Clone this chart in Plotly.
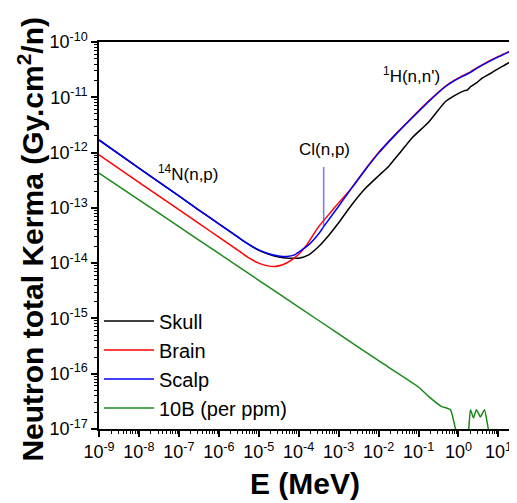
import numpy as np
import plotly.graph_objects as go

# values, as log10(E / MeV) and log10(kerma / Gy.cm2)
skull_logE = [-9, -8, -7, -6.5, -6, -5.5, -5.34, -5.0, -4.75, -4.5, -4.25, -4.0, -3.75, -3.5,
              -3.25, -3.0, -2.7, -2.375, -2.0, -1.75, -1.45, -1.17, -0.75, -0.33, -0.1, 0.05,
              0.15, 0.22, 0.3, 0.45, 0.6, 0.8, 1.0, 1.15, 1.3]
skull_logK = [-11.772, -12.28, -12.785, -13.04, -13.29, -13.54, -13.62, -13.77, -13.84, -13.89,
              -13.91, -13.91, -13.85, -13.70, -13.50, -13.27, -12.97, -12.68, -12.42, -12.25,
              -11.99, -11.74, -11.45, -11.08, -10.97, -10.91, -10.88, -10.87, -10.81, -10.74,
              -10.65, -10.57, -10.48, -10.42, -10.36]

brain_logE = [-9, -8, -7, -6.5, -6, -5.5, -5.28, -5.0, -4.8, -4.6, -4.4, -4.175, -4.0, -3.83,
              -3.5, -3.2, -3.0, -2.71, -2.33, -2.0, -1.58, -1.17, -0.75, -0.33, -0.1, 0.05,
              0.25, 0.5, 0.75, 1.0, 1.3]
brain_logK = [-12.04, -12.54, -13.03, -13.28, -13.53, -13.78, -13.89, -14.0, -14.045, -14.06,
              -14.03, -13.94, -13.84, -13.70, -13.34, -13.08, -12.91, -12.67, -12.30, -12.0,
              -11.67, -11.37, -11.07, -10.80, -10.69, -10.63, -10.56, -10.45, -10.35, -10.26,
              -10.16]

scalp_logE = [-9, -8, -7, -6.5, -6, -5.5, -5.34, -5.0, -4.75, -4.5, -4.3, -4.1, -4.0, -3.75,
              -3.5, -3.375, -3.0, -2.71, -2.33, -2.0, -1.58, -1.17, -0.75, -0.33, -0.1, 0.05,
              0.25, 0.5, 0.75, 1.0, 1.3]
scalp_logK = [-11.772, -12.28, -12.785, -13.04, -13.29, -13.54, -13.62, -13.76, -13.83, -13.87,
              -13.88, -13.85, -13.80, -13.67, -13.47, -13.34, -12.97, -12.68, -12.31, -12.01,
              -11.68, -11.38, -11.08, -10.81, -10.70, -10.64, -10.57, -10.46, -10.36, -10.27,
              -10.17]

boron_logE = [-9, -8, -7, -6, -5, -4, -3, -2, -1, -0.75, -0.43, -0.3, -0.2, -0.075, 0.0, 0.2,
              0.3, 0.375, 0.45, 0.55, 0.65, 0.75, 0.9, 1.3]
boron_logK = [-12.37, -12.855, -13.34, -13.825, -14.31, -14.795, -15.28, -15.765, -16.24, -16.41,
              -16.59, -16.62, -16.65, -17.0, -17.3, -17.3, -16.65, -16.8, -16.65, -16.78, -16.65,
              -17.0, -17.3, -17.3]

# Cl(n,p) marker on the scalp curve
cl_logE = [-3.375, -3.375]
cl_logK = [-12.26, -13.345]

series = [
    ("Skull", skull_logE, skull_logK, "black"),
    ("Brain", brain_logE, brain_logK, "#ff0000"),
    ("Scalp", scalp_logE, scalp_logK, "#0000ff"),
    ("10B (per ppm)", boron_logE, boron_logK, "#1a8a1a"),
]

x_exps = list(range(-9, 2))
y_exps = list(range(-17, -9))

fig = go.Figure()
for name, le, lk, col in series:
    fig.add_trace(go.Scatter(
        x=10 ** np.array(le), y=10 ** np.array(lk), name=name, mode="lines",
        line=dict(color=col, width=1.5, shape="spline", smoothing=0.5),
    ))
fig.add_trace(go.Scatter(
    x=10 ** np.array(cl_logE), y=10 ** np.array(cl_logK), mode="lines",
    line=dict(color="rgba(60,60,255,0.7)", width=1.5), showlegend=False,
))

axis_common = dict(
    type="log", showgrid=False, zeroline=False, showline=True, linecolor="black", linewidth=1.5,
    mirror=True, ticks="outside", ticklen=6, tickwidth=1.5, tickcolor="black",
    tickfont=dict(family="Liberation Sans, Arial", size=18, color="black"),
    tickmode="array",
)
fig.update_xaxes(
    **axis_common, range=[-9, 1.29],
    tickvals=[10.0 ** e for e in x_exps],
    ticktext=["10<sup>%d</sup>" % e for e in x_exps],
    minor=dict(ticks="outside", ticklen=3, tickwidth=1, tickcolor="black", tickmode="array",
               tickvals=[k * 10.0 ** e for e in x_exps for k in range(2, 10)]),
)
fig.update_yaxes(
    **axis_common, range=[-17, -10],
    tickvals=[10.0 ** e for e in y_exps],
    ticktext=["10<sup>%d</sup>" % e for e in y_exps],
    minor=dict(ticks="outside", ticklen=3, tickwidth=1, tickcolor="black", tickmode="array",
               tickvals=[k * 10.0 ** e for e in y_exps[:-1] for k in range(2, 10)]),
)

label_font = dict(family="Liberation Sans, Arial", size=17, color="black")
fig.add_annotation(x=-6.78, y=-12.37, text="<sup>14</sup>N(n,p)", showarrow=False, font=label_font)
fig.add_annotation(x=-3.35, y=-11.95, text="Cl(n,p)", showarrow=False, font=label_font)
fig.add_annotation(x=-1.18, y=-10.6, text="<sup>1</sup>H(n,n')", showarrow=False, font=label_font)

title_font = dict(family="Liberation Sans, Arial", size=30, color="black")
fig.add_annotation(xref="paper", yref="paper", x=-0.165, y=0.49, xanchor="center",
                   yanchor="middle", textangle=-90,
                   text="<b>Neutron total Kerma (Gy.cm<sup>2</sup>/n)</b>", showarrow=False,
                   font=title_font)
fig.add_annotation(xref="paper", yref="paper", x=0.5, y=-0.14, xanchor="center",
                   yanchor="middle", text="<b>E (MeV)</b>", showarrow=False, font=title_font)

# page is drawn 8px in from the window corner, so the figure is 8px smaller
fig.update_layout(
    width=509, height=495,
    margin=dict(l=91, r=5, t=34, b=74),
    paper_bgcolor="white", plot_bgcolor="white",
    legend=dict(x=0.0, y=0.004, xanchor="left", yanchor="bottom", bgcolor="rgba(0,0,0,0)",
                font=dict(family="Liberation Sans, Arial", size=20, color="black"),
                itemwidth=50, tracegroupgap=0),
)

fig.write_html("out.html")
